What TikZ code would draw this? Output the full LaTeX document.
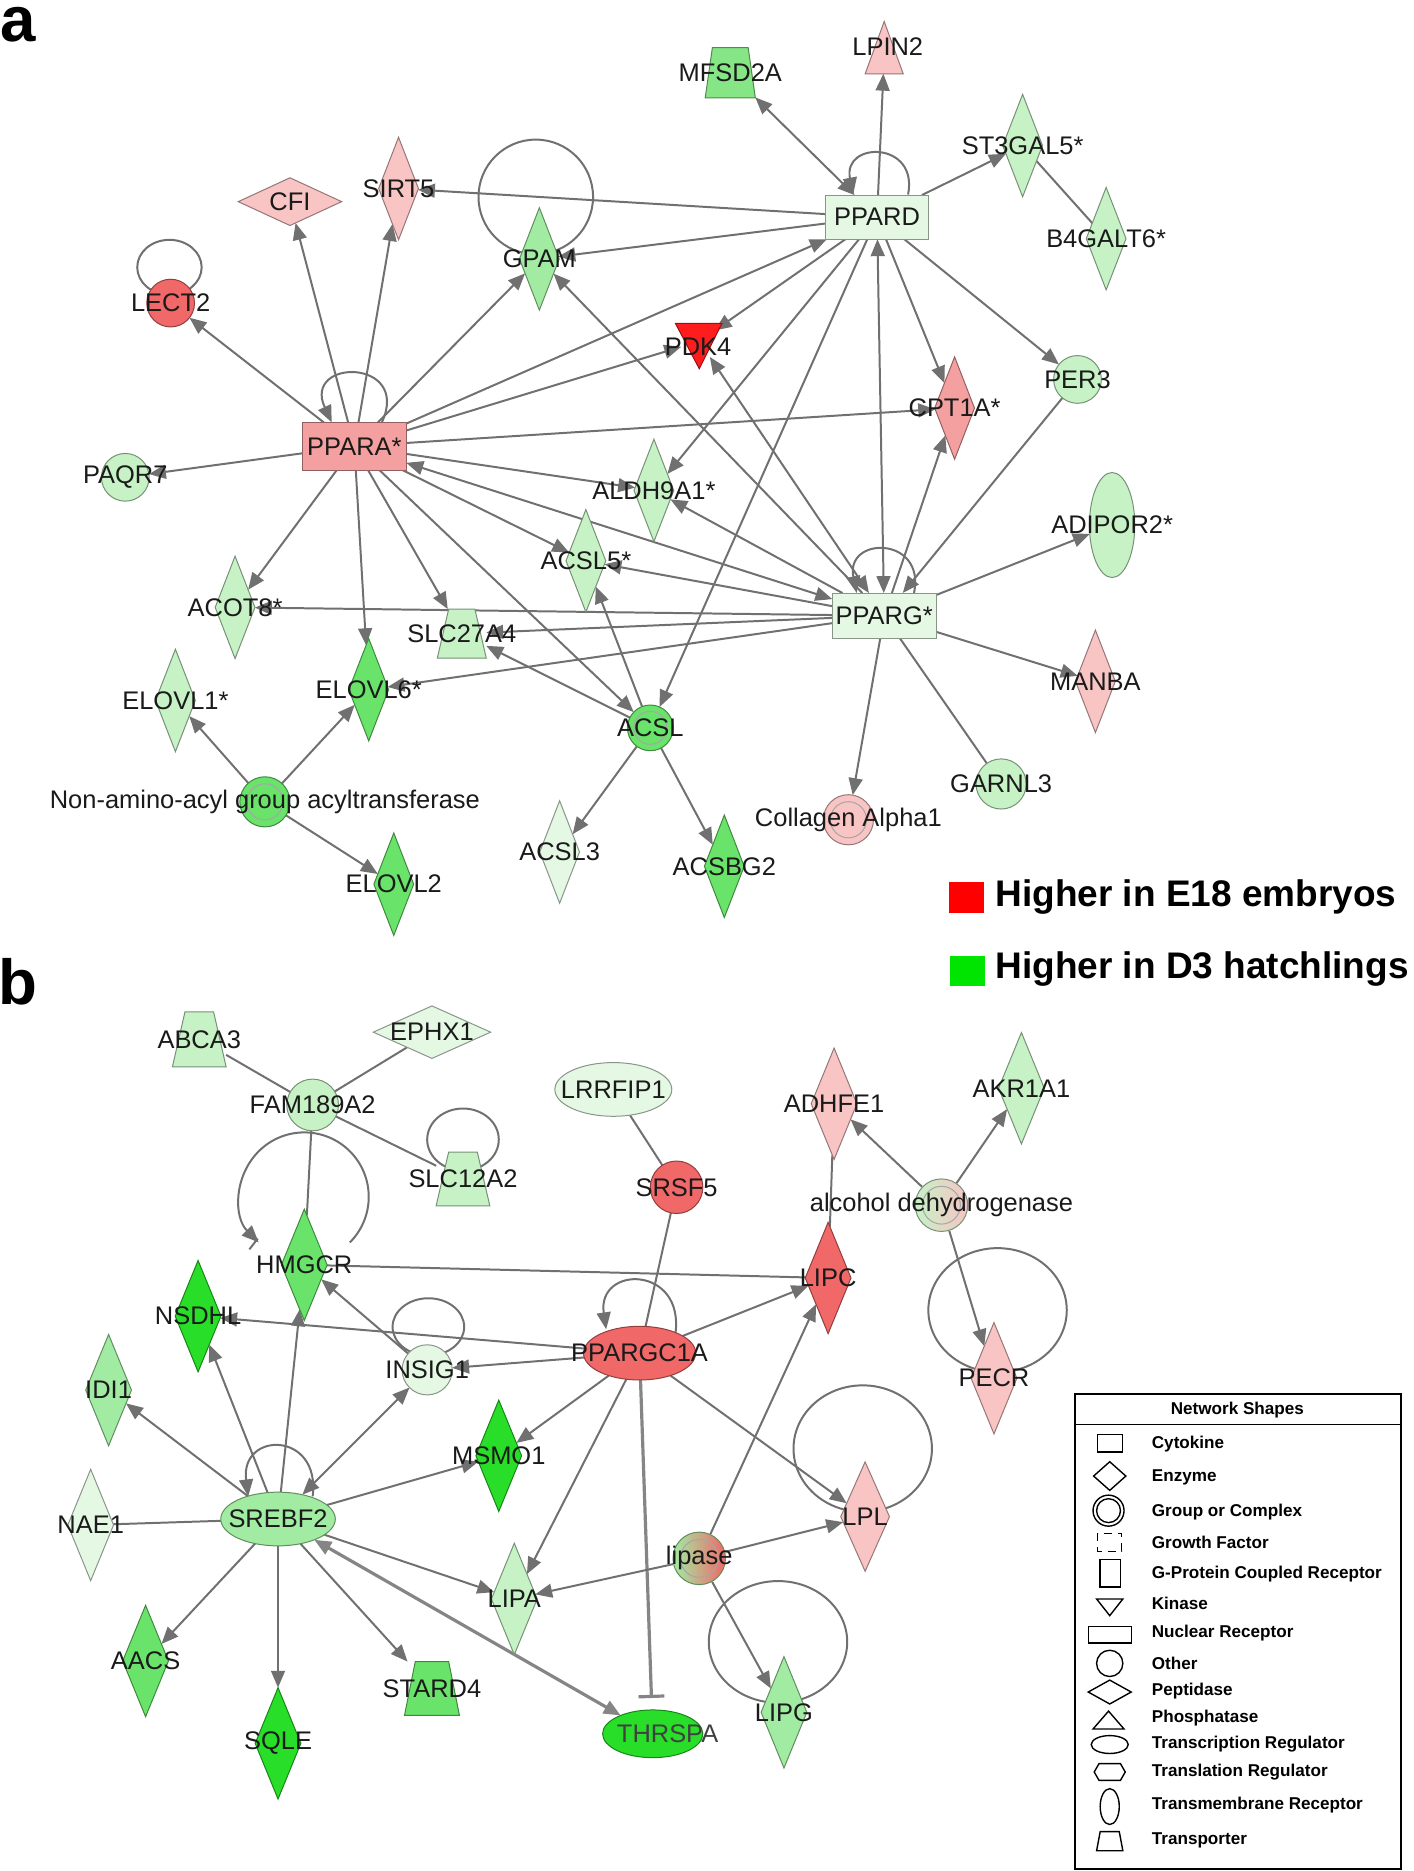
\documentclass[tikz,border=0pt]{standalone}
\usepackage{fontspec}
\setmainfont{Liberation Sans}
\usetikzlibrary{shapes.geometric,arrows.meta,calc,backgrounds}
\definecolor{gA}{HTML}{E4F8E4}
\definecolor{gB}{HTML}{C6F2C6}
\definecolor{gC}{HTML}{A2EBA2}
\definecolor{gCD}{HTML}{86E686}
\definecolor{gD}{HTML}{6AE36A}
\definecolor{gE}{HTML}{28DE28}
\definecolor{pA}{HTML}{F8C4C4}
\definecolor{pB}{HTML}{F4A0A0}
\definecolor{pC}{HTML}{F06868}
\definecolor{pD}{HTML}{FF1C1C}
\definecolor{edgec}{HTML}{707070}
\definecolor{txt}{HTML}{1A1A1A}
\newcommand\lblfont{\fontsize{12.8}{14}\selectfont}
\newcommand\legfont{\fontsize{8.6}{10}\selectfont\bfseries}
\tikzset{
  lbl/.style={font=\lblfont, text=txt, inner sep=0pt},
  gn/.style={fill=#1, draw=#1!60!black, line width=0.5pt, inner sep=0pt, outer sep=0pt},
  anc/.style={circle, inner sep=0pt, outer sep=0pt, minimum size=#1},
  dA/.style={diamond, minimum width=20pt, minimum height=51.5pt},
  dB/.style={diamond, minimum width=23pt, minimum height=56pt},
  dm/.style 2 args={diamond, minimum width=#1, minimum height=#2},
  oc/.style={circle, minimum size=#1},
  grp/.style={circle, minimum size=#1, path picture={\draw[black!35, line width=0.5pt] (path picture bounding box.center) circle[radius=0.36*#1];}},
  nr/.style 2 args={rectangle, minimum width=#1, minimum height=#2},
  el/.style 2 args={ellipse, minimum width=#1, minimum height=#2},
  arr/.style={draw=edgec, line width=1pt, -{Triangle[length=8.5pt, width=7pt]}},
  barr/.style={draw=edgec, line width=1pt, {Triangle[length=8.5pt, width=7pt]}-{Triangle[length=8.5pt, width=7pt]}},
  ln/.style={draw=edgec, line width=1pt},
  thk/.style={draw=edgec!85, line width=1.6pt},
  leg/.style={font=\legfont, anchor=west, inner sep=0pt},
  ico/.style={draw=black, line width=0.7pt},
  bigtx/.style={font=\fontsize{18.6}{22}\selectfont\bfseries, anchor=west, inner sep=0pt},
}
% transporter: name, x, y, half bottom, half top, half height, colour, label
\newcommand\tpnode[8]{%
  \node[rectangle, inner sep=0pt, outer sep=0pt, minimum width={#4*1.2pt}, minimum height={#6*1.2pt}] (#1) at (#2,#3) {};
  \draw[gn=#7] ($(#1)+(-#4,#6)$) -- ($(#1)+(#4,#6)$) -- ($(#1)+(#5,-#6)$) -- ($(#1)+(-#5,-#6)$) -- cycle;
  \node[lbl] (#1l) at (#1) {#8};}
\begin{document}
\begin{tikzpicture}[x=0.6pt,y=-0.6pt]
\useasboundingbox (0,0) rectangle (1185,1568);

% ---------------- panel a nodes ----------------
\node[font=\fontsize{32}{36}\selectfont\bfseries, inner sep=0pt] (la) at (15,21) {a};

\tpnode{mfsd}{612}{61}{21}{15}{21}{gCD}{MFSD2A}
\node[anc=19pt] (lpin) at (741,46) {};
\draw[gn=pA] (741,18) -- (757,62) -- (725,62) -- cycle;
\node[lbl] (lpinl) at (744,39) {LPIN2};
\node[gn=gB, dA, label={[lbl]center:ST3GAL5*}] (st3) at (857,122) {};
\node[gn=gB, dA, label={[lbl]center:B4GALT6*}] (b4) at (927,200) {};
\node[gn=gA, nr={51.6pt}{22.2pt}, label={[lbl]center:PPARD}] (ppard) at (735,182) {};
\node[gn=pA, dA, label={[lbl]center:SIRT5}] (sirt5) at (334,158) {};
\node[gn=pA, dm={52pt}{24pt}, label={[lbl]center:CFI}] (cfi) at (243,169) {};
\node[gn=gC, dA, label={[lbl]center:GPAM}] (gpam) at (452,217) {};
\node[gn=pC, oc=24pt, label={[lbl]center:LECT2}] (lect2) at (143,254) {};
\node[gn=pB, nr={52.2pt}{24pt}, label={[lbl]center:PPARA*}] (ppara) at (297,374) {};
\node[gn=gB, oc=24pt, label={[lbl]center:PAQR7}] (paqr7) at (105,400) {};
\node[anc=19pt] (pdk4) at (586,286) {};
\draw[gn=pD] (566,271) -- (605,271) -- (586,309) -- cycle;
\node[lbl] (pdk4l) at (585,291) {PDK4};
\node[gn=gB, dA, label={[lbl]center:ALDH9A1*}] (aldh) at (548,411) {};
\node[gn=gB, dA, label={[lbl]center:ACSL5*}] (acsl5) at (491,470) {};
\tpnode{slc27}{387}{531}{20.5}{11}{20.5}{gB}{SLC27A4}
\node[gn=gA, nr={52.2pt}{22.8pt}, label={[lbl]center:PPARG*}] (pparg) at (741,516) {};
\node[gn=gB, dA, label={[lbl]center:ACOT8*}] (acot8) at (197,509) {};
\node[gn=gB, dA, label={[lbl]center:ELOVL1*}] (elovl1) at (147,587) {};
\node[gn=gD, dA, label={[lbl]center:ELOVL6*}] (elovl6) at (309,578) {};
\node[gn=gD, grp=25.2pt, label={[lbl]center:Non-amino-acyl group acyltransferase}] (naag) at (222,672) {};
\node[gn=gD, dA, label={[lbl]center:ELOVL2}] (elovl2) at (330,741) {};
\node[gn=gD, grp=23pt, label={[lbl]center:ACSL}] (acsl) at (545,610) {};
\node[gn=gA, dA, label={[lbl]center:ACSL3}] (acsl3) at (469,714) {};
\node[gn=gD, dA, label={[lbl]center:ACSBG2}] (acsbg2) at (607,726) {};
\node[gn=pA, grp=25.2pt, label={[lbl]center:Collagen Alpha1}] (coll) at (711,687) {};
\node[gn=gB, oc=25.2pt, label={[lbl]center:GARNL3}] (garnl3) at (839,657) {};
\node[gn=pA, dA, label={[lbl]center:MANBA}] (manba) at (918,571) {};
\node[gn=gB, el={22.8pt}{52.8pt}, label={[lbl]center:ADIPOR2*}] (adipor) at (932,440) {};
\node[gn=gB, oc=24pt, label={[lbl]center:PER3}] (per3) at (903,318) {};
\node[gn=pB, dA, label={[lbl]center:CPT1A*}] (cpt1a) at (800,342) {};

% colour legend
\node[fill=red, minimum width=17.4pt, minimum height=15.6pt, inner sep=0pt] (redsq) at (810,752) {};
\node[bigtx] (redtx) at (834,752) {Higher in E18 embryos};
\node[fill=green!90!black, minimum width=17.4pt, minimum height=15pt, inner sep=0pt] (grnsq) at (811,814) {};
\node[bigtx] (grntx) at (834,812) {Higher in D3 hatchlings};

% ---------------- panel b nodes ----------------
\node[font=\fontsize{32}{36}\selectfont\bfseries, inner sep=0pt] (lb) at (15,823) {b};

\tpnode{abca3}{167}{871}{22.5}{12}{23}{gB}{ABCA3}
\node[gn=gA, dm={59pt}{26.4pt}, label={[lbl]center:EPHX1}] (ephx1) at (362,865) {};
\node[gn=gB, oc=26pt, label={[lbl]center:FAM189A2}] (fam) at (262,926) {};
\tpnode{slc12}{388}{988}{22.5}{12}{22.5}{gB}{SLC12A2}
\node[gn=gA, el={58.8pt}{27pt}, label={[lbl]center:LRRFIP1}] (lrrfip) at (514,913) {};
\node[gn=pC, oc=26.4pt, label={[lbl]center:SRSF5}] (srsf5) at (567,995) {};
\node[gn=gD, dB, label={[lbl]center:HMGCR}] (hmgcr) at (255,1060) {};
\node[gn=gE, dB, label={[lbl]center:NSDHL}] (nsdhl) at (166,1103) {};
\node[gn=gA, oc=25.2pt, label={[lbl]center:INSIG1}] (insig) at (358,1148) {};
\node[gn=pC, el={56.4pt}{27pt}, label={[lbl]center:PPARGC1A}] (pgc) at (536,1134) {};
\node[gn=pC, dB, label={[lbl]center:LIPC}] (lipc) at (694,1071) {};
\node[draw=gB!60!black, line width=0.5pt, inner sep=0pt, left color=gB, right color=pA, grp=26.4pt, label={[lbl]center:alcohol dehydrogenase}] (adh) at (789,1010) {};
\node[gn=pA, dB, label={[lbl]center:ADHFE1}] (adhfe1) at (699,925) {};
\node[gn=gB, dB, label={[lbl]center:AKR1A1}] (akr) at (856,912) {};
\node[gn=pA, dB, label={[lbl]center:PECR}] (pecr) at (833,1155) {};
\node[gn=pA, dm={24.5pt}{55pt}, label={[lbl]center:LPL}] (lpl) at (725,1271) {};
\node[draw=gC!60!black, line width=0.5pt, inner sep=0pt, left color=gC, right color=pC, grp=26.4pt, label={[lbl]center:lipase}] (lipase) at (586,1306) {};
\node[gn=gC, dB, label={[lbl]center:LIPG}] (lipg) at (657,1435) {};
\node[gn=gE, el={50.4pt}{24pt}, label={[lbl, text=black!75]center:\hspace*{15pt}THRSPA}] (thrspa) at (547,1453) {};
\node[gn=gE, dB, label={[lbl]center:MSMO1}] (msmo1) at (418,1220) {};
\node[gn=gB, dB, label={[lbl]center:LIPA}] (lipa) at (431,1340) {};
\node[gn=gC, el={57.6pt}{27pt}, label={[lbl]center:SREBF2}] (srebf2) at (233,1273) {};
\node[gn=gC, dB, label={[lbl]center:IDI1}] (idi1) at (91,1165) {};
\node[gn=gA, dB, label={[lbl]center:NAE1}] (nae1) at (76,1278) {};
\node[gn=gD, dB, label={[lbl]center:AACS}] (aacs) at (122,1392) {};
\node[gn=gE, dB, label={[lbl]center:SQLE}] (sqle) at (233,1461) {};
\tpnode{stard4}{362}{1415}{23}{14}{22.5}{gD}{STARD4}

% ---------------- shape legend ----------------
\draw[line width=0.9pt] (901,1168) rectangle (1174,1566);
\draw[line width=0.7pt] (901,1194) -- (1174,1194);
\node[font=\legfont, inner sep=0pt] (legt) at (1037,1182) {Network Shapes};
\draw[ico] (919.5,1202) rectangle (940.5,1217);
\draw[ico] (930,1225) -- (943.5,1237) -- (930,1249) -- (916.5,1237) -- cycle;
\draw[ico] (929,1266) circle[radius=13];
\draw[ico] (929,1266) circle[radius=10];
\draw[ico, dash pattern=on 4pt off 3pt] (920,1285) rectangle (940,1300);
\draw[ico] (922,1307) rectangle (939,1330);
\draw[ico] (919,1340) -- (941,1340) -- (930,1354) -- cycle;
\draw[ico] (912,1363) rectangle (948,1377);
\draw[ico] (930,1394) circle[radius=11];
\draw[ico] (912,1418) -- (930,1408) -- (948,1418) -- (930,1428) -- cycle;
\draw[ico] (916,1449) -- (942,1449) -- (929,1434) -- cycle;
\draw[ico] (930,1462) ellipse[x radius=15.5, y radius=7.5];
\draw[ico] (917,1485) -- (921,1478) -- (939,1478) -- (943,1485) -- (939,1492) -- (921,1492) -- cycle;
\draw[ico] (930,1514) ellipse[x radius=8, y radius=15];
\draw[ico] (919,1551) -- (941,1551) -- (938,1535) -- (922,1535) -- cycle;
\node[leg] (l1) at (965,1210) {Cytokine};
\node[leg] (l2) at (965,1238) {Enzyme};
\node[leg] (l3) at (965,1267) {Group or Complex};
\node[leg] (l4) at (965,1293) {Growth Factor};
\node[leg] (l5) at (965,1319) {G-Protein Coupled Receptor};
\node[leg] (l6) at (965,1344) {Kinase};
\node[leg] (l7) at (965,1369) {Nuclear Receptor};
\node[leg] (l8) at (965,1394) {Other};
\node[leg] (l9) at (965,1417) {Peptidase};
\node[leg] (l10) at (965,1440) {Phosphatase};
\node[leg] (l11) at (965,1462) {Transcription Regulator};
\node[leg] (l12) at (965,1485) {Translation Regulator};
\node[leg] (l13) at (965,1513) {Transmembrane Receptor};
\node[leg] (l14) at (965,1542) {Transporter};

% ---------------- connectors ----------------
\begin{scope}[on background layer]
\fill[white] (0,0) rectangle (1185,1568);
% loops a
\draw[ln] (142,224) ellipse[x radius=27, y radius=23];
\draw[ln] (449,165) ellipse[x radius=48, y radius=48];
\draw[arr] ($(ppara)+(23,-20)$) .. controls ($(ppara)+(48,-74)$) and ($(ppara)+(-44,-74)$) .. ($(ppara)+(-19,-20)$);
\draw[arr] ($(ppard)+(26,-19)$) .. controls ($(ppard)+(35,-64)$) and ($(ppard)+(-29,-64)$) .. ($(ppard)+(-20,-19)$);
\draw[arr] ($(pparg)+(25,-19)$) .. controls ($(pparg)+(35,-67)$) and ($(pparg)+(-33,-67)$) .. ($(pparg)+(-23,-19)$);
% PPARA
\draw[arr] (ppara) -- (lect2);
\draw[arr] (ppara) -- (cfi);
\draw[arr] (ppara) -- (sirt5);
\draw[arr] (ppara) -- (gpam);
\draw[arr] (ppara) -- (paqr7);
\draw[arr] (ppara) -- (pdk4);
\draw[arr] (ppara) -- (ppard);
\draw[arr] (ppara) -- (cpt1a);
\draw[arr] (ppara) -- (aldh);
\draw[arr] (ppara) -- (acsl5);
\draw[arr] (ppara) -- (slc27);
\draw[arr] (ppara) -- (acsl);
\draw[arr] (ppara) -- (elovl6);
\draw[arr] (ppara) -- (acot8);
\draw[barr] (ppara) -- (pparg);
% PPARD
\draw[arr] (ppard) -- (sirt5);
\draw[arr] (ppard) -- (gpam);
\draw[barr] (ppard) -- (mfsd);
\draw[arr] (ppard) -- (lpin);
\draw[arr] (ppard) -- (st3);
\draw[ln] (st3) -- (b4);
\draw[arr] (ppard) -- (per3);
\draw[arr] (ppard) -- (cpt1a);
\draw[arr] (ppard) -- (pdk4);
\draw[arr] (ppard) -- (aldh);
\draw[arr] (ppard) -- (acsl);
\draw[barr] (ppard) -- (pparg);
% PPARG
\draw[arr] (pparg) -- (gpam);
\draw[barr] (pparg) -- (pdk4);
\draw[arr] (pparg) -- (aldh);
\draw[arr] (pparg) -- (acsl5);
\draw[arr] (pparg) -- (acot8);
\draw[arr] (pparg) -- (slc27);
\draw[arr] (pparg) -- (elovl6);
\draw[arr] (pparg) -- (cpt1a);
\draw[arr] (per3) -- (pparg);
\draw[arr] (pparg) -- (adipor);
\draw[arr] (pparg) -- (manba);
\draw[arr] (pparg) -- (coll);
\draw[ln] (pparg) -- (garnl3);
% ACSL and acyltransferase
\draw[arr] (acsl) -- (slc27);
\draw[arr] (acsl) -- (acsl5);
\draw[arr] (acsl) -- (acsl3);
\draw[arr] (acsl) -- (acsbg2);
\draw[arr] (naag) -- (elovl1);
\draw[arr] (naag) -- (elovl6);
\draw[arr] (naag) -- (elovl2);

% loops b
\draw[ln] (388,955) ellipse[x radius=30, y radius=26];
\draw[ln] (359,1112) ellipse[x radius=30, y radius=24];
\draw[ln] (836,1098) ellipse[x radius=58, y radius=52];
\draw[ln] (723,1214) ellipse[x radius=58, y radius=53];
\draw[ln] (652,1376) ellipse[x radius=58, y radius=51];
\draw[arr] ($(hmgcr)+(38.2,-18.8)$) arc[start angle=45, end angle=-225, radius=54];
\draw[ln] (209,1047) -- (216,1038);
\draw[arr] ($(pgc)+(30,-16)$) .. controls ($(pgc)+(38,-74)$) and ($(pgc)+(-36,-74)$) .. ($(pgc)+(-28,-20)$);
\draw[arr] ($(srebf2)+(29,-19)$) .. controls ($(srebf2)+(36,-74)$) and ($(srebf2)+(-32,-74)$) .. ($(srebf2)+(-25,-19)$);
% plain links
\draw[ln] (fam) -- (abca3);
\draw[ln] (fam) -- (ephx1);
\draw[ln] (fam) -- (slc12);
\draw[ln] (fam) -- (hmgcr);
\draw[ln] (hmgcr) -- (lipc);
\draw[ln] (lrrfip) -- (srsf5);
\draw[ln] (srsf5) -- (pgc);
\draw[ln] (adhfe1) -- (lipc);
\draw[ln] (nae1) -- (srebf2);
% PPARGC1A
\draw[arr] (pgc) -- (nsdhl);
\draw[arr] (pgc) -- (insig);
\draw[arr] (pgc) -- (lipc);
\draw[arr] (pgc) -- (msmo1);
\draw[arr] (pgc) -- (lipa);
\draw[arr] (pgc) -- (lpl);
\draw[thk, -{Bar[width=13pt, line width=1.6pt]}, shorten >=6pt] (pgc) -- (thrspa);
% lipase, alcohol dehydrogenase
\draw[arr] (lipase) -- (lipc);
\draw[arr] (lipase) -- (lpl);
\draw[arr] (lipase) -- (lipa);
\draw[arr] (lipase) -- (lipg);
\draw[arr] (adh) -- (adhfe1);
\draw[arr] (adh) -- (akr);
\draw[arr] (adh) -- (pecr);
% SREBF2
\draw[arr] (insig) -- (hmgcr);
\draw[barr] (srebf2) -- (insig);
\draw[arr] (srebf2) -- (hmgcr);
\draw[arr] (srebf2) -- (nsdhl);
\draw[arr] (srebf2) -- (idi1);
\draw[arr] (srebf2) -- (msmo1);
\draw[arr] (srebf2) -- (lipa);
\draw[thk, {Triangle[length=8.5pt, width=7pt]}-{Triangle[length=8.5pt, width=7pt]}] (srebf2) -- (thrspa);
\draw[arr] (srebf2) -- (stard4);
\draw[arr] (srebf2) -- (sqle);
\draw[arr] (srebf2) -- (aacs);
\end{scope}
\end{tikzpicture}
\end{document}
